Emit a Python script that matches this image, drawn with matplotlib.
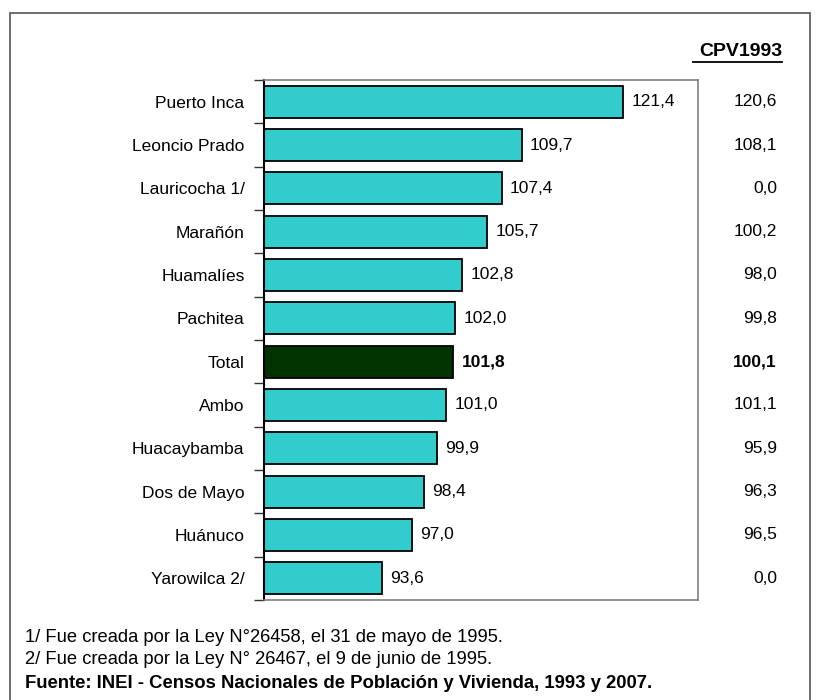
import matplotlib
matplotlib.use('Agg')
import matplotlib.pyplot as plt
from matplotlib import font_manager
from matplotlib.lines import Line2D
from matplotlib.patches import Rectangle
from matplotlib.transforms import blended_transform_factory

# Data
provincias = ['Puerto Inca', 'Leoncio Prado', 'Lauricocha 1/', 'Marañón', 'Huamalíes',
              'Pachitea', 'Total', 'Ambo', 'Huacaybamba', 'Dos de Mayo', 'Huánuco', 'Yarowilca 2/']
ind_2007 = [121.4, 109.7, 107.4, 105.7, 102.8, 102.0, 101.8, 101.0, 99.9, 98.4, 97.0, 93.6]
ind_1993 = [120.6, 108.1, 0.0, 100.2, 98.0, 99.8, 100.1, 101.1, 95.9, 96.3, 96.5, 0.0]
notas = ['1/ Fue creada por la Ley N°26458, el 31 de mayo de 1995.',
         '2/ Fue creada por la Ley N° 26467, el 9 de junio de 1995.']
fuente = 'Fuente: INEI - Censos Nacionales de Población y Vivienda, 1993 y 2007.'

# Font
names = set(f.name for f in font_manager.fontManager.ttflist)
if 'Liberation Sans Narrow' in names:
    plt.rcParams['font.family'] = ['Liberation Sans Narrow', 'DejaVu Sans']
else:
    plt.rcParams['font.family'] = ['Liberation Sans', 'DejaVu Sans']

fmt = lambda v: ('%.1f' % v).replace('.', ',')

W, H = 819, 700
fig = plt.figure(figsize=(W / 100, H / 100), dpi=100)

# outer frame
fig.patches.append(Rectangle((10 / W, -0.05), (810 - 10) / W, 1.05 - 13 / H,
                             transform=fig.transFigure, fill=False,
                             edgecolor='#555555', linewidth=1.2))

ax = fig.add_axes([264 / W, 1 - 600 / H, (698 - 264) / W, 520 / H])
n = len(provincias)
ypos = list(range(n))
colors = ['#003300' if p == 'Total' else '#33CCCC' for p in provincias]
ax.barh(ypos, [v - 80 for v in ind_2007], left=80, height=0.74, color=colors,
        edgecolor='black', linewidth=1.3)
ax.set_xlim(80, 130)
ax.set_ylim(n - 0.5, -0.5)
ax.set_xticks([])

# ticks at boundaries, labels at centres
ax.set_yticks([i - 0.5 for i in range(n + 1)])
ax.set_yticklabels([])
ax.tick_params(axis='y', which='major', length=7, width=1, color='#333333', direction='out')
ax.set_yticks(ypos, minor=True)
ax.set_yticklabels(provincias, minor=True, fontsize=12.5)
ax.tick_params(axis='y', which='minor', length=0, pad=14)

for s in ['top', 'right', 'bottom']:
    ax.spines[s].set_color('#808080')
    ax.spines[s].set_linewidth(1.2)
ax.spines['left'].set_color('black')
ax.spines['left'].set_linewidth(1.5)

for i, v in enumerate(ind_2007):
    bold = provincias[i] == 'Total'
    ax.text(v + 0.95, i, fmt(v), va='center', ha='left', fontsize=12.5,
            fontweight='bold' if bold else 'normal')

# 1993 column
tr = blended_transform_factory(fig.transFigure, ax.transData)
for i, v in enumerate(ind_1993):
    bold = provincias[i] == 'Total'
    ax.text(777 / W, i, fmt(v), transform=tr, va='center', ha='right', fontsize=12.5,
            fontweight='bold' if bold else 'normal', clip_on=False)

fig.text(782 / W, 1 - 52 / H, 'CPV1993', ha='right', va='center', fontsize=14,
         fontweight='bold')
fig.lines.append(Line2D([693 / W, 782 / W], [1 - 62 / H, 1 - 62 / H],
                        transform=fig.transFigure, color='black', linewidth=1.3))

# footnotes
fig.text(25 / W, 1 - 637 / H, notas[0], ha='left', va='center', fontsize=13.2)
fig.text(25 / W, 1 - 660 / H, notas[1], ha='left', va='center', fontsize=13.2)
fig.text(25 / W, 1 - 683 / H, fuente, ha='left', va='center', fontsize=13.3,
         fontweight='bold')

fig.savefig('out.png', dpi=100)
